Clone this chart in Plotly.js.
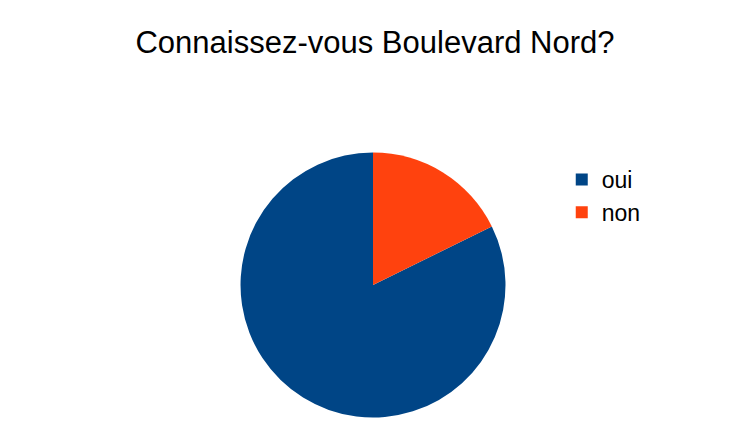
<!DOCTYPE html>
<html>
<head>
<meta charset="utf-8">
<script src="https://cdn.plot.ly/plotly-3.0.1.min.js"></script>
<style>html,body{margin:0;padding:0;background:#fff;}#chart{width:750px;height:437px;}</style>
</head>
<body>
<div id="chart"></div>
<script>
const titleText = "Connaissez-vous Boulevard Nord?";
const categories = ["oui", "non"];
const values = [79, 17];
const colors = ["#004586", "#ff420e"];

// first slice (oui) ends at 12 o'clock going clockwise, so "non" sits right of 12 o'clock
const total = values.reduce((a, b) => a + b, 0);
const startRotation = 360 * values[1] / total;

const data = [{
  type: "pie",
  labels: categories,
  values: values,
  sort: false,
  direction: "clockwise",
  rotation: startRotation,
  textinfo: "none",
  hoverinfo: "label+percent",
  marker: {colors: colors, line: {width: 0}},
  domain: {x: [0.3207, 0.674], y: [0.0446, 0.651]}
}];

const layout = {
  width: 750,
  height: 437,
  margin: {l: 0, r: 0, t: 0, b: 0},
  paper_bgcolor: "#ffffff",
  font: {family: "Liberation Sans, Arial, sans-serif", color: "#000000"},
  title: {
    text: titleText,
    font: {size: 31, family: "Liberation Sans, Arial, sans-serif", color: "#000000"},
    x: 0.5, xanchor: "center",
    y: 1 - 42/437, yanchor: "middle",
    xref: "paper", yref: "container"
  },
  showlegend: true,
  legend: {
    x: 0.749, xanchor: "left",
    y: 1 - 158/437, yanchor: "top",
    font: {size: 23, family: "Liberation Sans, Arial, sans-serif", color: "#000000"},
    bgcolor: "rgba(0,0,0,0)"
  }
};

Plotly.newPlot("chart", data, layout, {displayModeBar: false, staticPlot: true});
</script>
</body>
</html>
